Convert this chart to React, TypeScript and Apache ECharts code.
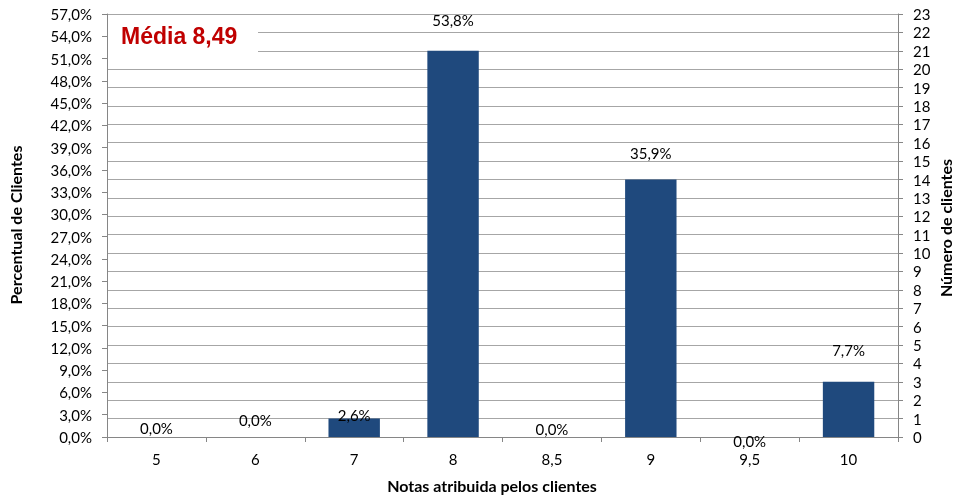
import React, { useEffect, useRef } from "react";
import * as echarts from "echarts";

const categories = ["5", "6", "7", "8", "8,5", "9", "9,5", "10"];
const clientCounts = [0, 0, 1, 21, 0, 14, 0, 3];
const clientPercents = [0, 0, 2.6, 53.8, 0, 35.9, 0, 7.7];
const labelNudges = [3, -5, 9, -18, 4, -14, 16, -19];
const averageText = "Média 8,49";
const xTitle = "Notas atribuida pelos clientes";
const leftTitle = "Percentual de Clientes";
const rightTitle = "Número de clientes";

const FONT = "Lato, 'Open Sans', sans-serif";
const fmtPct = (v: number) => v.toFixed(1).replace(".", ",") + "%";

export default function App() {
  const ref = useRef<HTMLDivElement>(null);
  useEffect(() => {
    if (!ref.current) return;
    const chart = echarts.init(ref.current, undefined, { renderer: "svg" });
    const axisColor = "#868686";
    chart.setOption({
      animation: false,
      textStyle: { fontFamily: FONT },
      grid: { left: 107, right: 56, top: 14, bottom: 60, containLabel: false },
      xAxis: {
        type: "category",
        data: categories,
        boundaryGap: true,
        axisLine: { lineStyle: { color: axisColor } },
        axisTick: { show: true, length: 5, lineStyle: { color: axisColor } },
        axisLabel: { color: "#000", fontSize: 15, margin: 14, fontFamily: FONT },
      },
      yAxis: [
        {
          type: "value",
          min: 0,
          max: 57,
          interval: 3,
          position: "left",
          axisLine: { show: true, lineStyle: { color: axisColor } },
          axisTick: { show: true, length: 5, lineStyle: { color: axisColor } },
          axisLabel: { color: "#000", fontSize: 15, margin: 15, fontFamily: FONT, formatter: (v: number) => fmtPct(v) },
          splitLine: { show: false },
        },
        {
          type: "value",
          min: 0,
          max: 23,
          interval: 1,
          position: "right",
          axisLine: { show: true, lineStyle: { color: axisColor } },
          axisTick: { show: true, length: 5, lineStyle: { color: axisColor } },
          axisLabel: { color: "#000", fontSize: 15, margin: 15, fontFamily: FONT },
          splitLine: { show: true, lineStyle: { color: "#A6A6A6", width: 1 } },
        },
      ],
      series: [
        {
          type: "bar",
          yAxisIndex: 1,
          barWidth: "52%",
          itemStyle: { color: "#1F497D" },
          data: clientCounts.map((c, i) => ({
            value: c,
            label: {
              show: true,
              position: "top",
              offset: [0, labelNudges[i]],
              formatter: () => fmtPct(clientPercents[i]),
              color: "#000",
              fontSize: 15,
              fontFamily: FONT,
            },
          })),
        },
      ],
      graphic: [
        { type: "rect", z: 100, shape: { x: 108, y: 17, width: 150, height: 48 }, style: { fill: "#fff" } },
        {
          type: "text",
          z: 101,
          x: 121,
          y: 36,
          style: {
            text: averageText,
            fill: "#C00000",
            font: "bold 23px 'Liberation Sans', Arial, sans-serif",
            textVerticalAlign: "middle",
            verticalAlign: "middle",
          },
        },
        {
          type: "text",
          x: 492,
          y: 485,
          style: {
            text: xTitle,
            fill: "#000",
            font: "bold 16px Lato, 'Open Sans', sans-serif",
            align: "center",
            verticalAlign: "middle",
          },
        },
        {
          type: "text",
          x: 15,
          y: 225,
          rotation: Math.PI / 2,
          style: {
            text: leftTitle,
            fill: "#000",
            font: "bold 16px Lato, 'Open Sans', sans-serif",
            align: "center",
            verticalAlign: "middle",
          },
        },
        {
          type: "text",
          x: 945,
          y: 228,
          rotation: Math.PI / 2,
          style: {
            text: rightTitle,
            fill: "#000",
            font: "bold 16px Lato, 'Open Sans', sans-serif",
            align: "center",
            verticalAlign: "middle",
          },
        },
      ],
    });
    return () => chart.dispose();
  }, []);
  return <div ref={ref} style={{ position: "fixed", left: 0, top: 0, width: 954, height: 497 }} />;
}
